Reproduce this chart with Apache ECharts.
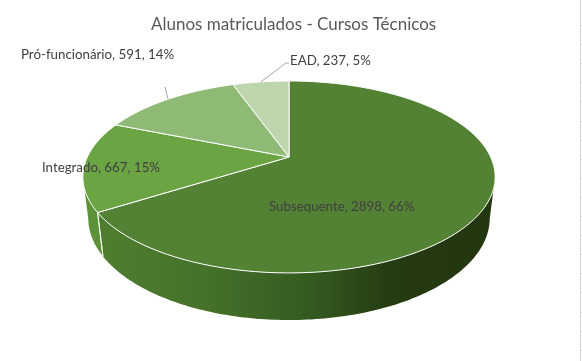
<!DOCTYPE html>
<html><head><meta charset="utf-8">
<script src="https://cdn.jsdelivr.net/npm/echarts/dist/echarts.min.js"></script>
<style>html,body{margin:0;padding:0;background:#fff}#c{width:582px;height:361px}</style>
</head><body><div id="c"></div>
<script>
// ---- data ----
const categories = ['Subsequente', 'Integrado', 'Pró-funcionário', 'EAD'];
const values = [2898, 667, 591, 237];
const percents = ['66%', '15%', '14%', '5%'];
const titleText = 'Alunos matriculados - Cursos Técnicos';

// ---- styles / layout ----
const topColors = ['#548235', '#6aa443', '#8fba75', '#bdd6ae'];
const wallStops = [
  [[0, '#508031'], [0.3, '#45712a'], [0.55, '#355a20'], [0.75, '#253b12'], [1, '#22360f']],
  [[0, '#5e9238'], [1, '#5a8d35']],
  [[0, '#7fa866'], [1, '#7fa866']],
  [[0, '#a9c49a'], [1, '#a9c49a']]
];
const labelPos = [[269, 207], [42, 168], [21, 55], [290, 61]];
const leaderEnd = [null, null, [[165, 87]], [[286, 63], [289, 63]]];

// perspective projection of a tilted disk
const P = {cx: 289, cy: 157, b: 201.6, a: 91.8, k: 0.208, hm: 0.0256, hc: 41.5};
function proj(t, r, bottom) {
  const X = r * Math.sin(t), Z = r * Math.cos(t);
  const w = 1 + P.k * Z + (bottom ? P.hm : 0);
  return [P.cx + P.b * X / w, P.cy + (-P.a * Z + (bottom ? P.hc : 0)) / w];
}
const total = values.reduce((s, v) => s + v, 0);
const starts = [];
let acc = 0;
values.forEach(v => { starts.push(acc / total * Math.PI * 2); acc += v; });
const visL = 102 / 180 * Math.PI, visR = 258 / 180 * Math.PI;

function arcPts(a, e, r, bottom) {
  const pts = [];
  const n = Math.max(2, Math.ceil(Math.abs(e - a) / (Math.PI / 180)));
  for (let j = 0; j <= n; j++) pts.push(proj(a + (e - a) * j / n, r, bottom));
  return pts;
}

function renderItem(params, api) {
  const i = params.dataIndex;
  const v = api.value(0);
  const s = starts[i], e = s + v / total * Math.PI * 2;
  const children = [];
  // side wall
  const a = Math.max(s, visL), b = Math.min(e, visR);
  if (b > a) {
    const top = arcPts(a, b, 1, false);
    const bot = arcPts(b, a, 1, true);
    children.push({
      type: 'polygon', z2: 1,
      shape: {points: top.concat(bot)},
      style: {fill: new echarts.graphic.LinearGradient(83, 0, 495, 0, wallStops[i].map(x => ({offset: x[0], color: x[1]})), true)}
    });
    [s, e].forEach(t => {
      if (t > visL + 0.01 && t < visR - 0.01) {
        const p1 = proj(t, 1, false), p2 = proj(t, 1, true);
        children.push({type: 'line', z2: 2, shape: {x1: p1[0], y1: p1[1], x2: p2[0], y2: p2[1]},
          style: {stroke: '#ffffff', lineWidth: 1, opacity: 0.85}});
      }
    });
  }
  // top face
  const c = proj(0, 0, false);
  children.push({
    type: 'polygon', z2: 10,
    shape: {points: [c].concat(arcPts(s, e, 1, false))},
    style: {fill: topColors[i], stroke: '#ffffff', lineWidth: 1, lineJoin: 'round'}
  });
  // leader line
  if (leaderEnd[i]) {
    const m = (s + e) / 2;
    const p0 = proj(m, 1, false);
    children.push({type: 'polyline', z2: 20, shape: {points: [p0].concat(leaderEnd[i])},
      style: {stroke: '#a6a6a6', lineWidth: 1, fill: null}});
  }
  // label
  children.push({
    type: 'text', z2: 30, x: labelPos[i][0], y: labelPos[i][1],
    style: {text: categories[i] + ', ' + v + ', ' + percents[i], fill: '#404040',
      font: '13.3px Lato', verticalAlign: 'middle', align: 'left'}
  });
  return {type: 'group', children};
}

const chart = echarts.init(document.getElementById('c'), null, {renderer: 'canvas'});
const gridTicks = [];
for (let y = 25; y < 361; y += 19.1) gridTicks.push({type: 'line', shape: {x1: 580, y1: Math.round(y) + 0.5, x2: 582, y2: Math.round(y) + 0.5}, style: {stroke: '#d9d9d9', lineWidth: 1}});
chart.setOption({
  animation: false,
  backgroundColor: '#ffffff',
  title: {text: titleText, left: 146, top: 11,
    textStyle: {fontFamily: 'Lato', fontSize: 17, fontWeight: 'normal', color: '#595959'}},
  graphic: [{type: 'line', shape: {x1: 580.5, y1: 0, x2: 580.5, y2: 361}, style: {stroke: '#d4d4d4', lineWidth: 1}}].concat(gridTicks),
  series: [{
    type: 'custom',
    coordinateSystem: 'none',
    renderItem: renderItem,
    data: values.map((v, i) => [v, i])
  }]
});
</script></body></html>
